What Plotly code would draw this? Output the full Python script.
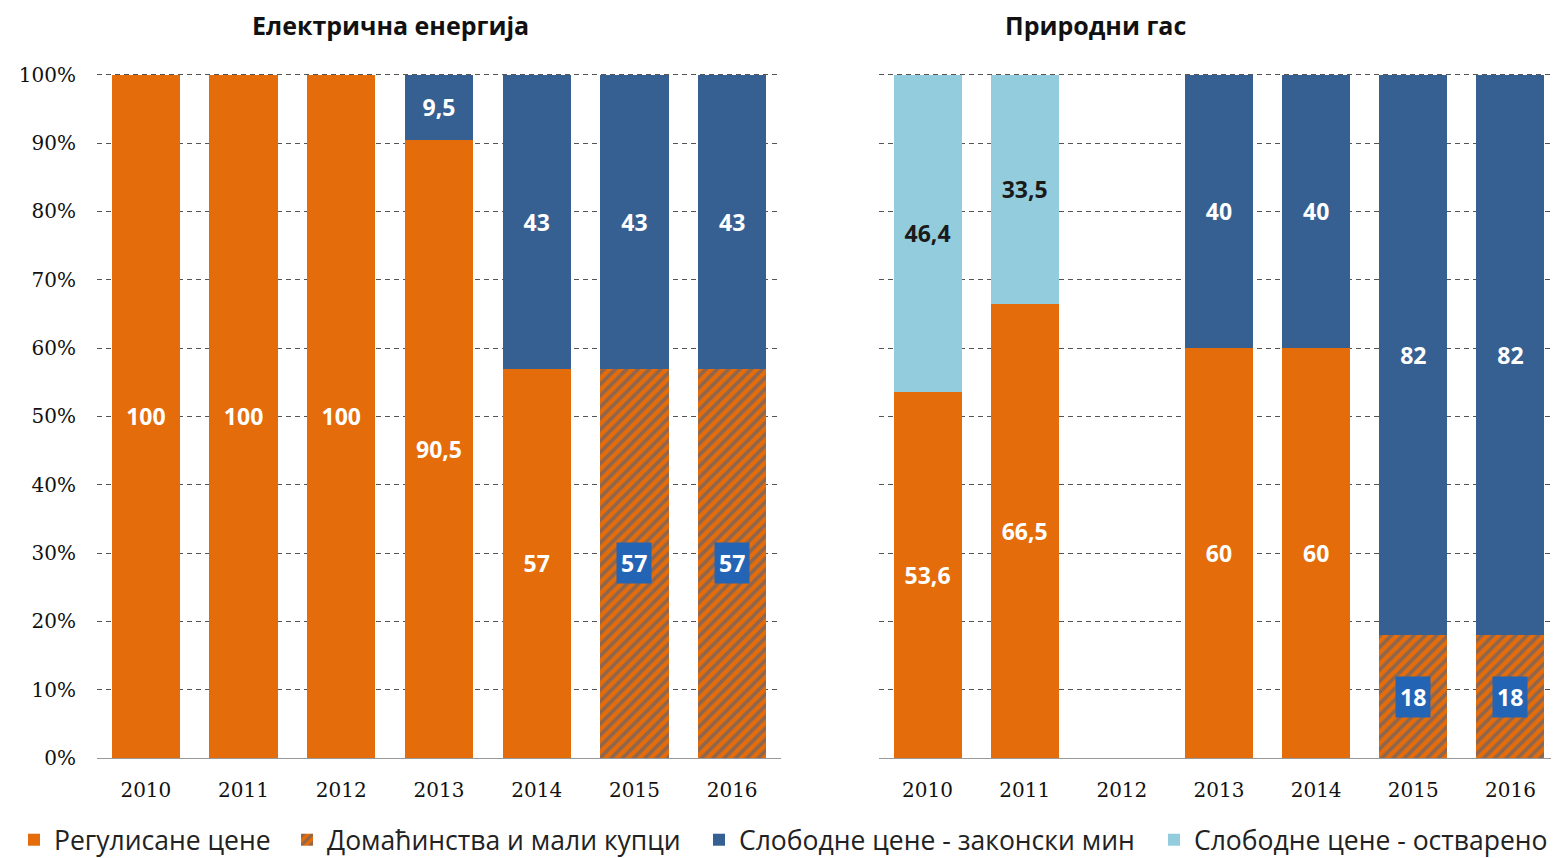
import plotly.graph_objects as go

years = ["2010", "2011", "2012", "2013", "2014", "2015", "2016"]
series_names = ["Регулисане цене", "Домаћинства и мали купци",
                "Слободне цене - законски мин", "Слободне цене - остварено"]

# Електрична енергија
el_regulated = [100, 100, 100, 90.5, 57, 0, 0]
el_households = [0, 0, 0, 0, 0, 57, 57]
el_free_min = [0, 0, 0, 9.5, 43, 43, 43]
el_free_real = [0, 0, 0, 0, 0, 0, 0]

# Природни гас
gas_regulated = [53.6, 66.5, 0, 60, 60, 0, 0]
gas_households = [0, 0, 0, 0, 0, 18, 18]
gas_free_min = [0, 0, 0, 40, 40, 82, 82]
gas_free_real = [46.4, 33.5, 0, 0, 0, 0, 0]

titles = ["Електрична енергија", "Природни гас"]
y_ticks = [0, 10, 20, 30, 40, 50, 60, 70, 80, 90, 100]
y_ticktext = [f"{v}%" for v in y_ticks]

ORANGE = "#E46C0A"
BLUE = "#376092"
LIGHT = "#93CDDD"
BOX = "#2464B4"
SANS = "Open Sans"
SERIF = "DejaVu Serif"
LABEL_SIZE = 23

OFF = 8  # page body margin
W, H = 1559 - OFF, 858 - OFF

LEGENDS = ["legend", "legend2", "legend3", "legend4"]


def fmt(v):
    if v == 0:
        return ""
    if float(v).is_integer():
        return str(int(v))
    return str(v).replace(".", ",")


fig = go.Figure()

panels = [
    ("x", "y", [el_regulated, el_households, el_free_min, el_free_real], True),
    ("x2", "y2", [gas_regulated, gas_households, gas_free_min, gas_free_real], False),
]

for xa, ya, data, show in panels:
    reg, hh, fmin, freal = data
    fig.add_trace(go.Bar(
        x=years, y=reg, name=series_names[0], xaxis=xa, yaxis=ya,
        marker=dict(color=ORANGE, line=dict(width=0)),
        text=[fmt(v) for v in reg], textposition="inside", insidetextanchor="middle",
        textangle=0, textfont=dict(color="white", size=LABEL_SIZE, family=SANS, weight="bold"),
        showlegend=show, legend=LEGENDS[0], width=0.7,
    ))
    fig.add_trace(go.Bar(
        x=years, y=hh, name=series_names[1], xaxis=xa, yaxis=ya,
        marker=dict(color=ORANGE, line=dict(width=0),
                    pattern=dict(shape="/", fgcolor=BLUE, bgcolor=ORANGE,
                                 size=8, solidity=0.45, fillmode="overlay")),
        showlegend=show, legend=LEGENDS[1], width=0.7,
    ))
    fig.add_trace(go.Bar(
        x=years, y=fmin, name=series_names[2], xaxis=xa, yaxis=ya,
        marker=dict(color=BLUE, line=dict(width=0)),
        text=[fmt(v) for v in fmin], textposition="inside", insidetextanchor="middle",
        textangle=0, textfont=dict(color="white", size=LABEL_SIZE, family=SANS, weight="bold"),
        showlegend=show, legend=LEGENDS[2], width=0.7,
    ))
    fig.add_trace(go.Bar(
        x=years, y=freal, name=series_names[3], xaxis=xa, yaxis=ya,
        marker=dict(color=LIGHT, line=dict(width=0)),
        text=[fmt(v) for v in freal], textposition="inside", insidetextanchor="middle",
        textangle=0, textfont=dict(color="#1a1a1a", size=LABEL_SIZE, family=SANS, weight="bold"),
        showlegend=show, legend=LEGENDS[3], width=0.7,
    ))
    # boxed labels on hatched segments
    for i, v in enumerate(hh):
        if v:
            fig.add_annotation(
                x=i, y=v / 2, xref=xa, yref=ya, text=fmt(v), showarrow=False,
                font=dict(color="white", size=LABEL_SIZE, family=SANS, weight="bold"),
                bgcolor=BOX, borderpad=4,
            )

axis_common = dict(
    range=[0, 100.25], tickvals=y_ticks, ticktext=y_ticktext,
    showgrid=True, gridcolor="#555555", griddash="5px,4px", gridwidth=1,
    zeroline=False, domain=[0, 1], fixedrange=True,
    tickfont=dict(family=SERIF, size=20, color="#111111"),
)
xcommon = dict(
    type="category", range=[-0.5, 6.5], showline=True, linecolor="#999999", linewidth=1,
    showgrid=False, ticks="", tickfont=dict(family=SERIF, size=20, color="#111111"),
    ticklabelstandoff=14,
)

# target pixel geometry (page coords) -> figure coords
L, T, BOT = 97 - OFF, 73 - OFF, 758 - OFF
PW = W - L
PH = BOT - T

legend_x_px = [14, 287, 699, 1154]
legend_layout = {}
for name, px in zip(LEGENDS, legend_x_px):
    legend_layout[name] = dict(
        orientation="h", x=(px - OFF - L) / PW, xanchor="left",
        y=-(840 - 758) / PH, yanchor="middle",
        font=dict(family=SANS, size=26.5, color="#222222"),
        itemwidth=30, bgcolor="rgba(0,0,0,0)",
    )

fig.update_layout(
    width=W, height=H,
    margin=dict(l=L, r=0, t=T, b=H - BOT, autoexpand=False),
    paper_bgcolor="white", plot_bgcolor="white",
    barmode="stack",
    xaxis=dict(domain=[0, (781 - OFF - L) / PW], anchor="y", **xcommon),
    xaxis2=dict(domain=[(879 - OFF - L) / PW, 1.0], anchor="y2", **xcommon),
    yaxis=dict(anchor="x", ticklabelstandoff=20, **axis_common),
    yaxis2=dict(anchor="x2", showticklabels=False, **axis_common),
    font=dict(family=SANS),
    **legend_layout,
)

for title, cx in zip(titles, [390, 1095]):
    fig.add_annotation(x=(cx - OFF - L) / PW, y=1 + (73 - 25) / PH, xref="paper", yref="paper",
                       xanchor="center", yanchor="middle",
                       text=title, showarrow=False,
                       font=dict(family=SANS, size=25, color="#111111", weight="bold"))

fig.write_html("out.html")
